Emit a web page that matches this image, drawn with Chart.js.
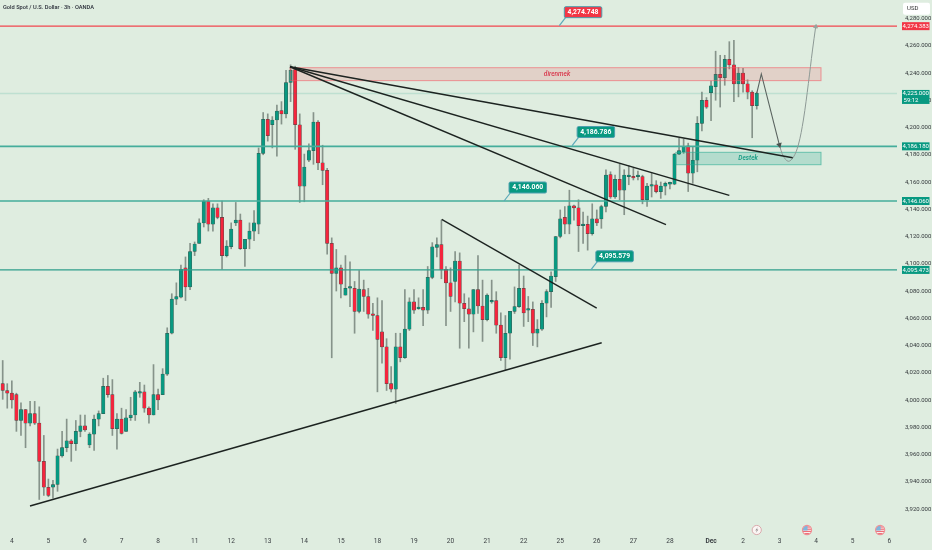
<!DOCTYPE html>
<html><head><meta charset="utf-8">
<script src="https://cdn.jsdelivr.net/npm/chart.js@4"></script>
<style>html,body{margin:0;padding:0;background:#dfede0}canvas{display:block}#w{position:relative;width:932px;height:550px}</style>
</head><body><div id="w"><canvas id="c" width="932" height="550"></canvas></div>
<script>
const opens=[4012,4007,4005,4004,3985,3993,3983,3990,3983,3955,3936,3936,3938,3959,3965,3970,3968,3977,3981,3967,3975,3986,3990,4010,4004,3979,3986,3977,3987,3989,4005,4006,3994,3989,4004,4004,4019,4049,4074,4075.5,4097,4083,4109,4115,4130,4146,4129,4141,4134,4106,4112.5,4130,4132,4111,4118,4124,4129,4181,4206,4202,4205.5,4212.5,4210,4233,4242.5,4202,4157,4176,4183,4204,4174,4168.5,4115,4093,4097,4077,4082,4082,4065,4081,4076,4063,4062,4050,4039,4012,4008,4039,4031,4052,4072,4067,4068,4066,4090,4112,4114,4096,4086,4087,4102,4071,4067,4063,4081,4069,4059,4072,4073,4055,4031,4049,4065,4068.5,4082,4066,4066.5,4049,4052,4071,4079.5,4090.5,4120,4134,4129,4142.5,4141,4128,4129,4122,4133,4133,4142,4165.5,4149,4162,4154,4164,4164,4164,4164,4147,4157,4158,4153,4157,4158.5,4158.5,4180.5,4182,4186.5,4166.5,4176,4203,4220,4225.5,4230,4239,4236.5,4250,4246,4232,4240,4232,4226,4216];
const highs=[4029,4012,4014,4005,3998,3993,3999,3999,3995,3974,3942,3941,3964,3977,3986,3971,3985,3989,3989,3976,3989,3992,4016,4018,4015,3990,3994,3993,4002,4007,4013,4011,3995,4026,4008,4023,4053,4078,4086,4099,4105,4115,4116,4133,4147,4148,4144,4144,4146,4117,4130,4145,4136.5,4118,4130,4139,4185,4211,4210,4208,4216.5,4219,4242,4246,4245,4210,4180.5,4188,4211,4205,4187,4170,4119,4110.5,4099,4106,4101.5,4087,4095,4088,4082,4071,4075,4073,4045,4024.5,4049,4049,4081,4075,4081,4075,4081,4098,4115.5,4119,4132,4098,4097,4109,4108,4078,4075,4081,4106,4088,4078,4088,4079.5,4064,4062,4065,4083,4099,4091,4076,4072,4059,4073,4081,4094,4120,4139.5,4142,4154,4143,4147,4138,4135,4144,4139.5,4143,4169,4167.5,4165,4173,4169,4172,4170,4168,4165,4159,4166.5,4161,4160,4160,4160,4181,4192,4191.5,4188.5,4186,4208,4226,4222,4234,4256,4253,4253,4263,4264,4244,4243.5,4235,4227,4226];
const lows=[4000.5,3994,3994,3977,3974,3965,3981,3982,3927,3930,3929,3928,3933,3958,3962,3955,3963,3973,3977,3965,3963,3981,3990,4002,3974,3964,3975,3977,3985,3985,4002,3991,3983,3989,3993,4004,4018,4048.5,4070,4075,4073,4081,4106,4115,4127,4124,4124,4133,4096,4105,4111,4128,4110.5,4098,4111,4117,4122,4180,4190,4185,4179,4202.5,4207,4219,4184,4145,4145.5,4175,4173,4169,4158,4107,4031,4080,4075,4077,4068.5,4049,4064,4065,4060,4051,4006,4027,4007,4006,3997.5,4028,4030.5,4051,4063.5,4066.5,4054.5,4063.5,4089,4105,4089,4054.5,4065,4072,4038,4057.5,4038,4050,4063.5,4043,4058,4071,4049,4029,4022,4030,4063.5,4068,4054,4057.5,4040,4039,4051,4061,4068,4087,4119,4122,4122,4132,4109,4115,4110,4121,4128,4126,4138,4148,4148,4147,4136,4158,4161.5,4161.5,4144,4142,4149,4152,4148,4150.5,4155,4158,4180,4181,4153,4159,4167.5,4197.5,4214,4205,4220,4215,4231,4243,4219,4222.5,4226,4221,4192.5,4213.5];
const closes=[4007,4005,4000,3985,3993,3983,3990,3983,3955,3936,3930,3938,3959,3965,3970,3968,3977,3981,3978,3975,3986,3990,4010,4004,3979,3986,3975.5,3987,3989,4006,4006,3994,3989,4004,4000,4019,4049,4074,4076,4096,4083,4109,4114.5,4130,4146,4129,4141,4134,4106,4113,4125.5,4132,4111,4118,4124,4130,4181,4206,4194,4205.5,4212,4210,4233,4242,4202,4157,4171,4183,4204,4174,4168.5,4115,4093,4097,4085,4082,4082.5,4065,4081.5,4076,4063,4062,4044.5,4039,4012,4008,4039,4031,4052,4072,4066,4068,4066,4090,4112.5,4114,4095.5,4086,4076,4102,4071,4067,4063,4081,4069,4059,4077,4073,4055,4031,4049,4065,4068.5,4082,4064,4066.5,4049,4052,4071,4079.5,4091,4120,4133,4129,4142.5,4141,4128,4129,4122,4133,4130,4142,4165,4149,4162,4154,4165,4164.5,4163,4164.5,4147,4157,4158,4153,4157,4159,4159,4180.5,4183,4186,4166.5,4176,4203,4220,4215,4230.5,4239,4236.5,4250,4246,4232,4240,4232,4226,4216,4225];

const dayTicks=[2,10,18,26,34,42,50,58,66,74,82,90,98,106,114,122,130,138,146,155,162,170,178,186,194];
const dayLabels=['4','5','6','7','8','11','12','13','14','15','18','19','20','21','22','25','26','27','28','Dec','2','3','4','5','6'];
const priceTicks=[3920,3940,3960,3980,4000,4020,4040,4060,4080,4100,4120,4140,4160,4180,4200,4220,4240,4260,4280];

const levelPrices=[4274.383,4186.18,4146.06,4095.473,4225];
const levelTexts=['4,274.383','4,186.180','4,146.060','4,095.473','4,225.000'];
const calloutPrices=[4274.748,4186.786,4146.06,4095.579];
const calloutIdx=[121.8,124.6,109.7,128.7];
const calloutTexts=['4,274.748','4,186.786','4,146.060','4,095.579'];

const trendA=[{x:5.97,y:3922.2},{x:131.07,y:4042.06}];
const trendB=[{x:96.06,y:4132.6},{x:129.98,y:4067.5}];
const fan1=[{x:62.87,y:4244.6},{x:172.87,y:4177.8}];
const fan2=[{x:62.87,y:4244.6},{x:159,y:4150.2}];
const fan3=[{x:62.87,y:4244.6},{x:145.14,y:4128.7}];
const pathDown=[{x:165,y:4225},{x:166,y:4239.3},{x:169.95,y:4187.2}];
const pathUp=[{x:169.94,y:4187.2},{x:170.8,y:4179.1},{x:171.9,y:4175.2},{x:173,y:4178.1},{x:174.1,y:4187.2},{x:175.2,y:4205.5},{x:176.3,y:4232.4},{x:177.2,y:4256.9},{x:177.9,y:4274}];

const xMin=-0.59,xMax=195.69,yMin=3902.4,yMax=4293.58;
const UP='#089981',DOWN='#f5253d',EDGE='rgba(28,52,46,0.8)';
const FONT='Roboto, "Liberation Sans", sans-serif';
const idx=opens.map((_,i)=>i);
const isUp=i=>closes[i]>=opens[i];

function levelLine(p,color,w){return {type:'line',order:2,data:[{x:xMin,y:p},{x:xMax,y:p}],borderColor:color,borderWidth:w,pointRadius:0,fill:false};}
function seg(d,color,w,extra){return Object.assign({type:'line',order:1,data:d,borderColor:color,borderWidth:w,pointRadius:0,fill:false,tension:0},extra||{});}
function arrowEnd(d,rot,color,r){return {pointRadius:c=>c.dataIndex===d.length-1?r:0,pointStyle:'triangle',pointRotation:rot,pointBackgroundColor:color,pointBorderColor:color};}

function rrect(g,x,y,w,h,r){g.beginPath();g.roundRect(x,y,w,h,r);}

const overlay={
 id:'overlay',
 afterDatasetDraw(chart,args){
  if(args.index!==1)return;
  const g=chart.ctx,X=chart.scales.x,Y=chart.scales.y;
  const zone=(a,b,top,bot,fill,stroke)=>{const x=X.getPixelForValue(a),x2=X.getPixelForValue(b),y=Y.getPixelForValue(top),y2=Y.getPixelForValue(bot);
    g.save();g.fillStyle=fill;g.fillRect(x,y,x2-x,y2-y);g.strokeStyle=stroke;g.lineWidth=1;g.strokeRect(x,y,x2-x,y2-y);g.restore();};
  zone(62.9,179.06,4243.9,4234.4,'rgba(242,54,69,0.15)','rgba(242,90,100,0.6)');
  zone(147.3,179.06,4181.8,4172.7,'rgba(8,153,129,0.2)','rgba(40,170,145,0.6)');
 },
 afterDatasetsDraw(chart){
  const g=chart.ctx,X=chart.scales.x,Y=chart.scales.y;
  g.save();
  g.textBaseline='middle';g.textAlign='center';
  g.font='italic 500 6.5px '+FONT;
  g.fillStyle='#d8344a';g.fillText('direnmek',X.getPixelForValue(121.3),Y.getPixelForValue(4239));
  g.fillStyle='#129a82';g.fillText('Destek',X.getPixelForValue(163.1),Y.getPixelForValue(4177.6));
  // callouts
  calloutPrices.forEach((p,i)=>{
    const ax=X.getPixelForValue(calloutIdx[i]),ay=Y.getPixelForValue(p),col=i===0?'#f23645':UP;
    g.strokeStyle='#5aa9b8';g.lineWidth=1.2;g.beginPath();g.moveTo(ax,ay);g.lineTo(ax+7,ay-9);g.stroke();
    rrect(g,ax+5,ay-19,37.5,11,1.5);g.fillStyle=col;g.fill();g.strokeStyle='#4d9fae';g.lineWidth=1;g.stroke();
    g.fillStyle='#fff';g.font='700 6.8px '+FONT;g.fillText(calloutTexts[i],ax+23.7,ay-13.3);
  });
  // price tags
  levelPrices.forEach((p,i)=>{
    const y=Y.getPixelForValue(p),col=i===0?'#f23645':UP;
    if(i===4){
      g.fillStyle=col;g.fillRect(902,y-3.5,27.5,14);
      g.fillStyle='#fff';g.font='6px '+FONT;g.fillText(levelTexts[i],915.8,y);g.fillText('59:12',911,y+6.7);
    }else{
      g.fillStyle=col;g.fillRect(902,y-4,27.5,8);
      g.fillStyle='#fff';g.font='6px '+FONT;g.fillText(levelTexts[i],915.8,y+0.2);
    }
  });
  // USD
  rrect(g,903,2.7,27,12,2);g.fillStyle='#fff';g.fill();
  g.fillStyle='#333';g.font='6px '+FONT;g.textAlign='left';g.fillText('USD',907,8.8);
  // title
  g.fillStyle='#2a2e39';g.font='500 5.7px '+FONT;g.fillText('Gold Spot / U.S. Dollar · 3h · OANDA',3,8);
  // event icons
  const yE=530,xa=X.getPixelForValue(165);
  g.beginPath();g.arc(xa,yE,4.6,0,7);g.fillStyle='#fbf6f4';g.fill();g.strokeStyle='#d9a9ac';g.lineWidth=1;g.stroke();
  g.beginPath();g.moveTo(xa+1.2,yE-3);g.lineTo(xa-1.5,yE+.5);g.lineTo(xa+.2,yE+.2);g.lineTo(xa-1,yE+3);g.lineTo(xa+1.6,yE-.6);g.lineTo(xa,yE-.4);g.closePath();g.fillStyle='#8c8484';g.fill();
  [176,192].forEach(v=>{
    const x=X.getPixelForValue(v);
    g.save();g.beginPath();g.arc(x,yE,4.4,0,7);g.clip();
    g.fillStyle='#fbeeee';g.fillRect(x-5,yE-5,10,10);
    g.fillStyle='#ee6f78';[-3.6,-1.4,0.8,3].forEach(d=>g.fillRect(x-5,yE+d,10,1.2));
    g.fillStyle='#7fb6dc';g.fillRect(x-5,yE-5,5.5,5.5);
    g.restore();
    g.beginPath();g.arc(x,yE,4.6,0,7);g.strokeStyle='#ef8f94';g.lineWidth=1.1;g.stroke();
  });
  g.restore();
 }
};

new Chart(document.getElementById('c'),{
 type:'bar',
 data:{datasets:[
  {label:'wick',order:12,grouped:false,barThickness:1,data:idx.map(i=>({x:i,y:[lows[i],highs[i]]})),backgroundColor:'rgba(92,104,98,0.68)',borderWidth:0},
  {label:'body',order:10,grouped:false,barThickness:3.4,minBarLength:1.6,data:idx.map(i=>({x:i,y:[opens[i],closes[i]]})),backgroundColor:idx.map(i=>isUp(i)?UP:DOWN),borderColor:EDGE,borderWidth:0.5,borderSkipped:false},
  levelLine(levelPrices[4],'rgba(8,153,129,0.15)',1.5),
  levelLine(levelPrices[0],'#f2464f',1.2),
  levelLine(levelPrices[1],'#45ad9b',1.7),
  levelLine(levelPrices[2],'#45ad9b',1.7),
  levelLine(levelPrices[3],'#2f9e8b',1.2),
  seg(trendA,'#1c2320',1.4),seg(trendB,'#1c2320',1.4),seg(fan1,'#1c2320',1.4),seg(fan2,'#1c2320',1.4),seg(fan3,'#1c2320',1.4),
  seg(pathDown,'#5a635f',1.1,arrowEnd(pathDown,165,'#4a534f',2.2)),
  seg(pathUp,'#8d9995',1,Object.assign({tension:0.35},arrowEnd(pathUp,10,'#97a39e',2.2)))
 ]},
 options:{
  responsive:false,animation:false,events:[],
  layout:{padding:0,autoPadding:false},
  plugins:{legend:{display:false},title:{display:false},tooltip:{enabled:false}},
  scales:{
   x:{type:'linear',min:xMin,max:xMax,offset:false,
      grid:{display:false,drawTicks:false},border:{display:false},
      afterBuildTicks:s=>{s.ticks=dayTicks.map(v=>({value:v}));},
      afterFit:s=>{s.height=17;s.paddingLeft=0;s.paddingRight=0;},
      ticks:{autoSkip:false,maxRotation:0,padding:4,color:'#3a3f42',
        font:c=>({family:FONT,size:6.6,weight:c.tick&&c.tick.value===155?'700':'400'}),
        callback:v=>dayLabels[dayTicks.indexOf(v)]}},
   y:{type:'linear',position:'right',min:yMin,max:yMax,
      grid:{display:false,drawTicks:false},border:{display:false},
      afterBuildTicks:s=>{s.ticks=priceTicks.map(v=>({value:v}));},
      afterFit:s=>{s.width=35;s.paddingTop=0;s.paddingBottom=0;},
      ticks:{autoSkip:false,padding:8,color:'#33383b',font:{family:FONT,size:6},
        callback:v=>v.toLocaleString('en-US',{minimumFractionDigits:3,maximumFractionDigits:3})}}
  }
 },
 plugins:[overlay]
});
</script></body></html>
